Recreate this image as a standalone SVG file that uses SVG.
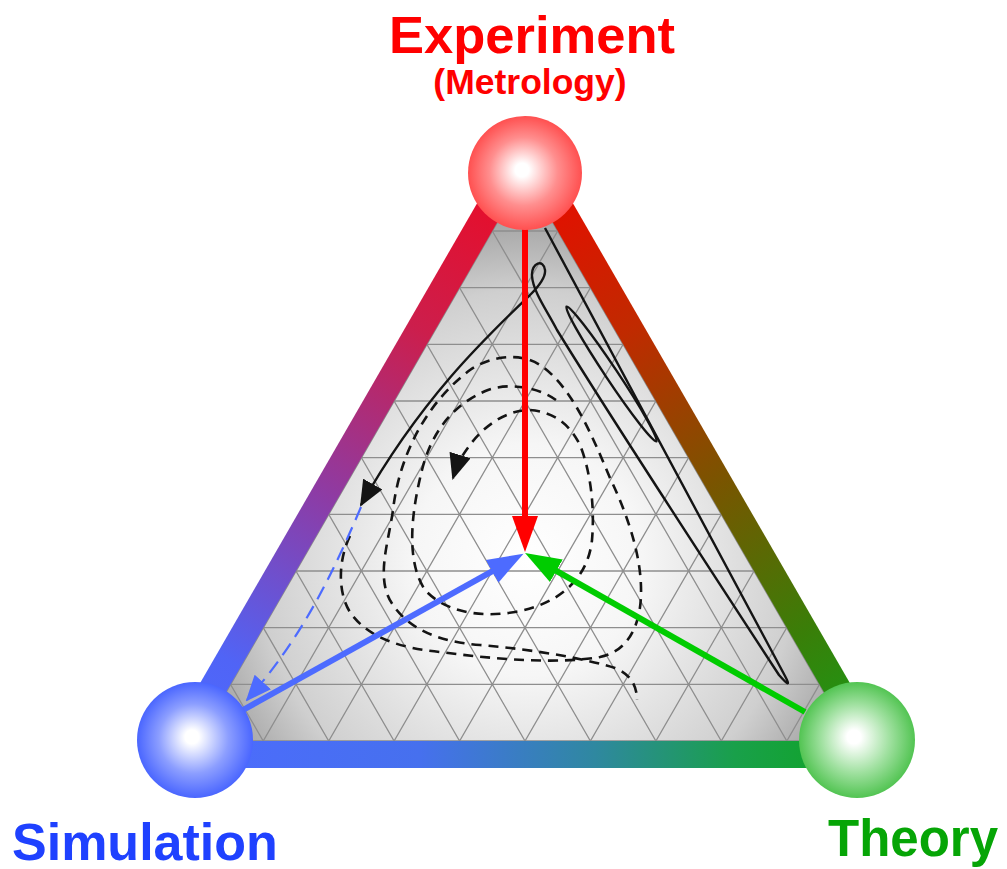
<svg xmlns="http://www.w3.org/2000/svg" width="1007" height="869" viewBox="0 0 1007 869">
<style>
.grid{fill:none;stroke:#8e8e8e;stroke-width:1.3}
.traj{fill:none;stroke:#141414;stroke-width:2.4;stroke-linejoin:round}
.dash{fill:none;stroke:#141414;stroke-width:2.6;stroke-dasharray:10 7}
.lbl{font-family:"Liberation Sans",Arial,sans-serif;font-weight:bold}
</style>
<defs>
<radialGradient id="fillG" gradientUnits="userSpaceOnUse" cx="528" cy="560" r="385">
<stop offset="0" stop-color="#ffffff"/>
<stop offset="0.3" stop-color="#f6f6f6"/>
<stop offset="0.7" stop-color="#cfcfcf"/>
<stop offset="1" stop-color="#8a8a8a"/>
</radialGradient>
<linearGradient id="leftG" gradientUnits="userSpaceOnUse" x1="525" y1="150" x2="175" y2="750">
<stop offset="0" stop-color="#f0081e"/>
<stop offset="0.3" stop-color="#cc1e4c"/>
<stop offset="0.58" stop-color="#8c3ca6"/>
<stop offset="0.85" stop-color="#5064f6"/>
<stop offset="1" stop-color="#4d6bff"/>
</linearGradient>
<linearGradient id="rightG" gradientUnits="userSpaceOnUse" x1="525" y1="150" x2="875" y2="750">
<stop offset="0" stop-color="#f00600"/>
<stop offset="0.3" stop-color="#c02a00"/>
<stop offset="0.55" stop-color="#7a5400"/>
<stop offset="0.8" stop-color="#3a7e08"/>
<stop offset="1" stop-color="#14a01a"/>
</linearGradient>
<linearGradient id="bottomG" gradientUnits="userSpaceOnUse" x1="175" y1="755" x2="875" y2="755">
<stop offset="0" stop-color="#4d6bff"/>
<stop offset="0.35" stop-color="#4670ee"/>
<stop offset="0.6" stop-color="#2f88a0"/>
<stop offset="0.8" stop-color="#19a04a"/>
<stop offset="1" stop-color="#0da51c"/>
</linearGradient>
<radialGradient id="ballR" cx="0.5" cy="0.5" r="0.5" fx="0.47" fy="0.47">
<stop offset="0" stop-color="#ffffff"/>
<stop offset="0.12" stop-color="#ffffff"/>
<stop offset="0.6" stop-color="#ff8e8e"/>
<stop offset="1" stop-color="#ff5050"/>
</radialGradient>
<radialGradient id="ballB" cx="0.5" cy="0.5" r="0.5" fx="0.47" fy="0.47">
<stop offset="0" stop-color="#ffffff"/>
<stop offset="0.12" stop-color="#ffffff"/>
<stop offset="0.6" stop-color="#8c9eff"/>
<stop offset="1" stop-color="#4a66ff"/>
</radialGradient>
<radialGradient id="ballG" cx="0.5" cy="0.5" r="0.5" fx="0.47" fy="0.47">
<stop offset="0" stop-color="#ffffff"/>
<stop offset="0.12" stop-color="#ffffff"/>
<stop offset="0.6" stop-color="#9ee09e"/>
<stop offset="1" stop-color="#52c452"/>
</radialGradient>
<clipPath id="tri"><polygon points="525,174.3 197.8,741 852.2,741"/></clipPath>
<marker id="mRed" markerUnits="userSpaceOnUse" markerWidth="40" markerHeight="30" viewBox="0 0 40 30" refX="2" refY="15" orient="auto"><path d="M0,2 L36,15 L0,28 Z" fill="#ff0000"/></marker>
<marker id="mBlue" markerUnits="userSpaceOnUse" markerWidth="40" markerHeight="30" viewBox="0 0 40 30" refX="2" refY="15" orient="auto"><path d="M0,2 L36,15 L0,28 Z" fill="#4d6bff"/></marker>
<marker id="mGreen" markerUnits="userSpaceOnUse" markerWidth="40" markerHeight="30" viewBox="0 0 40 30" refX="2" refY="15" orient="auto"><path d="M0,2 L36,15 L0,28 Z" fill="#00cc00"/></marker>
<marker id="mBlack" markerUnits="userSpaceOnUse" markerWidth="26" markerHeight="22" viewBox="0 0 26 22" refX="24" refY="11" orient="auto"><path d="M0,0 L26,11 L0,22 Z" fill="#141414"/></marker>
<marker id="mBlueS" markerUnits="userSpaceOnUse" markerWidth="26" markerHeight="22" viewBox="0 0 26 22" refX="24" refY="11" orient="auto"><path d="M0,0 L26,11 L0,22 Z" fill="#4d6bff"/></marker>
</defs>
<rect width="1007" height="869" fill="#ffffff"/>
<g id="triangle">
<polygon points="525,174.3 197.8,741 852.2,741" fill="url(#fillG)"/>
<g clip-path="url(#tri)">
<path class="grid" d="M150,231 H900 M150,287.6 H900 M150,344.3 H900 M150,401 H900 M150,457.7 H900 M150,514.3 H900 M150,571 H900 M150,627.7 H900 M150,684.3 H900
M263.2,741 L590.4,174.3 M328.7,741 L655.9,174.3 M394.1,741 L721.3,174.3 M459.6,741 L786.8,174.3 M525,741 L852.2,174.3 M590.4,741 L917.6,174.3 M655.9,741 L983.1,174.3 M721.3,741 L1048.5,174.3 M786.8,741 L1114,174.3
M263.2,741 L-64,174.3 M328.7,741 L1.5,174.3 M394.1,741 L66.9,174.3 M459.6,741 L132.4,174.3 M525,741 L197.8,174.3 M590.4,741 L263.2,174.3 M655.9,741 L328.7,174.3 M721.3,741 L394.1,174.3 M786.8,741 L459.6,174.3"/>
</g>
<polygon points="525,174.3 197.8,741 852.2,741" fill="none" stroke="#8a8a8a" stroke-width="1.5"/>
<polygon points="525,174.3 525,120.3 151.1,768 197.8,741" fill="url(#leftG)"/>
<polygon points="525,174.3 525,120.3 898.9,768 852.2,741" fill="url(#rightG)"/>
<polygon points="197.8,741 151.1,768 898.9,768 852.2,741" fill="url(#bottomG)"/>
</g>
<g id="connectors">
<path class="traj" d="M545,228 C620,370 700,520 785,676 Q793,691 779,675 C730,600 600,400 557,330 C548,312 533,292 532,276 C531,262 544,259 545,270 C546,278 538,287 530,295 C485,338 420,400 361,505" marker-end="url(#mBlack)"/>
<ellipse class="traj" cx="611.5" cy="374" rx="81" ry="6" transform="rotate(56.3 611.5 374)"/>
<path class="dash" d="M350,536 C338,560 337,595 352,615 C370,638 400,648 440,652 C500,660 560,664 600,657 C625,652 640,630 641,595 C642,560 630,520 610,478 C590,430 570,385 540,365 C520,352 490,356 470,370 C430,400 400,450 393,510 C388,545 375,580 393,605 C410,630 440,642 480,645 C540,650 590,660 615,668 C630,674 637,685 637,700"/>
<path class="dash" d="M556,400 C540,388 510,382 488,390 C455,403 432,430 422,470 C412,510 405,560 425,590 C445,612 480,618 515,612 C560,604 588,578 592,540 C595,505 590,470 580,445 C570,425 555,412 530,410 C505,410 482,428 470,445 C462,455 457,465 453,478" marker-end="url(#mBlack)"/>
<path d="M361,507 C330,580 300,640 247,700" fill="none" stroke="#4d6bff" stroke-width="2.2" stroke-dasharray="14 8" marker-end="url(#mBlueS)"/>
<path d="M525,228 L525,518" fill="none" stroke="#ff0000" stroke-width="6" marker-end="url(#mRed)"/>
<path d="M243,710 L493.8,570.3" fill="none" stroke="#4d6bff" stroke-width="6" marker-end="url(#mBlue)"/>
<path d="M805,712 L554.6,569.8" fill="none" stroke="#00cc00" stroke-width="6" marker-end="url(#mGreen)"/>
</g>
<g id="experiment">
<circle cx="525" cy="173" r="57" fill="url(#ballR)"/>
<text class="lbl" x="532" y="53" font-size="52.5" fill="#ff0000" text-anchor="middle">Experiment</text>
<text class="lbl" x="530" y="94" font-size="35.5" fill="#ff0000" text-anchor="middle">(Metrology)</text>
</g>
<g id="simulation">
<circle cx="195" cy="740" r="58" fill="url(#ballB)"/>
<text class="lbl" x="12" y="860" font-size="52" fill="#1f41ff">Simulation</text>
</g>
<g id="theory">
<circle cx="857" cy="740" r="58" fill="url(#ballG)"/>
<text class="lbl" x="828" y="856" font-size="51" fill="#06a506">Theory</text>
</g>
</svg>
